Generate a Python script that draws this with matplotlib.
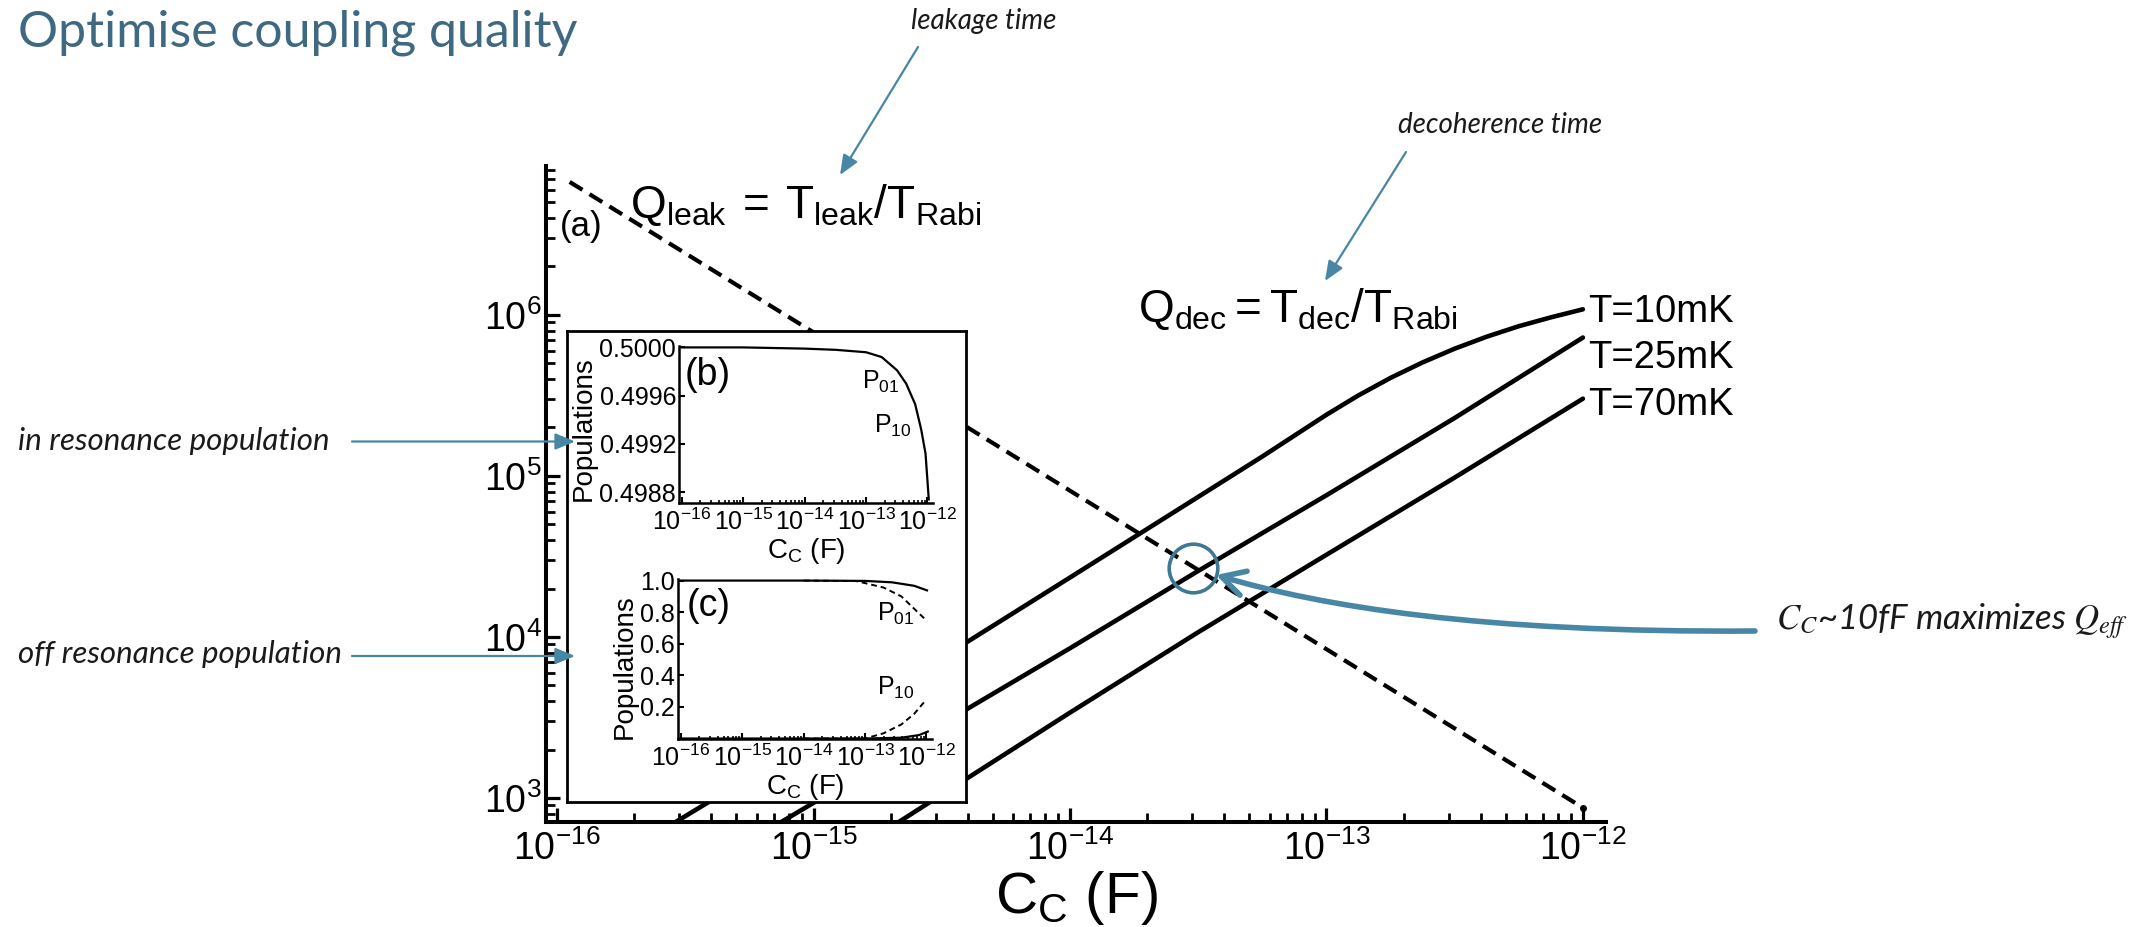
import numpy as np
import matplotlib
matplotlib.use("Agg")
import matplotlib.pyplot as plt
from matplotlib.ticker import LogLocator, NullFormatter, FuncFormatter, FixedLocator, FormatStrFormatter
from matplotlib.patches import FancyArrowPatch
from matplotlib.path import Path

plt.rcParams['font.family'] = ['Liberation Sans', 'DejaVu Sans']
plt.rcParams['mathtext.fontset'] = 'custom'
plt.rcParams['mathtext.rm'] = 'Liberation Sans'
plt.rcParams['mathtext.it'] = 'Liberation Sans:italic'
plt.rcParams['mathtext.bf'] = 'Liberation Sans:bold'

# ---------------- data ----------------
# main panel (a): quality factors vs coupling capacitance
cc_leak = [1.12e-16, 1e-15, 1e-14, 1e-13, 1e-12]
q_leak = [6.7e6, 7.8e5, 8.1e4, 8.4e3, 8.7e2]

cc_10mK = [2.51e-16, 1e-15, 3.16e-15, 1e-14, 3.16e-14, 5.62e-14, 1e-13, 1.33e-13, 1.78e-13,
           2.37e-13, 3.16e-13, 4.22e-13, 5.62e-13, 7.5e-13, 1e-12]
q_10mK = [617, 2.34e3, 7.41e3, 2.34e4, 7.41e4, 1.32e5, 2.40e5, 3.16e5, 4.07e5,
          5.07e5, 6.17e5, 7.33e5, 8.51e5, 9.66e5, 1.084e6]

cc_25mK = [6.3e-16, 1e-15, 3.16e-15, 1e-14, 3.16e-14, 1e-13, 1.78e-13, 3.16e-13, 5.62e-13, 1e-12]
q_25mK = [603, 933, 2.88e3, 8.51e3, 2.57e4, 7.59e4, 1.32e5, 2.29e5, 4.07e5, 7.24e5]

cc_70mK = [1.6e-15, 3.16e-15, 1e-14, 3.16e-14, 1e-13, 3.16e-13, 1e-12]
q_70mK = [525, 1.05e3, 3.39e3, 1.07e4, 3.24e4, 9.77e4, 3.02e5]

temp_labels = ["T=10mK", "T=25mK", "T=70mK"]
x_ticks_main = [1e-16, 1e-15, 1e-14, 1e-13, 1e-12]

# optimum marker
cc_opt = 10 ** -13.52
q_opt = 10 ** 4.43

# inset (b): in-resonance population
cc_b = [1e-16, 1e-15, 1e-14, 3.2e-14, 1e-13, 1.8e-13, 3.2e-13, 4.5e-13, 6.3e-13, 7.9e-13, 9.3e-13, 1.05e-12]
p_b = [0.50000, 0.50000, 0.49999, 0.49998, 0.49996, 0.49992, 0.49981, 0.49970, 0.49953, 0.49932, 0.49912, 0.49874]
yticks_b = [0.4988, 0.4992, 0.4996, 0.5000]

# inset (c): off-resonance populations
cc_c_top = [1e-16, 1e-14, 1e-13, 2.75e-13, 6.3e-13, 1.02e-12]
p_c_top = [1.0, 1.0, 0.998, 0.989, 0.967, 0.938]
cc_c_p01 = [1e-14, 7.2e-14, 2e-13, 3.9e-13, 6.3e-13, 1.02e-12]
p_c_p01 = [1.0, 0.997, 0.956, 0.90, 0.822, 0.744]
cc_c_p10 = [1e-14, 1e-13, 2e-13, 3.9e-13, 6.3e-13, 9.8e-13]
p_c_p10 = [0.0, 0.0, 0.033, 0.089, 0.156, 0.244]
cc_c_bot = [1e-16, 1e-13, 3.9e-13, 7.6e-13, 1.05e-12]
p_c_bot = [0.0, 0.0, 0.005, 0.022, 0.044]
yticks_c = [0.2, 0.4, 0.6, 0.8, 1.0]

# ---------------- figure ----------------
W, H = 2136, 927
fig = plt.figure(figsize=(W / 100, H / 100), dpi=100)


def fx(px):
    return px / W


def fy(py):
    return 1 - py / H


def rect(l, r, t, b):
    return [fx(l), fy(b), (r - l) / W, (b - t) / H]


XLIM = (10 ** -16.043, 10 ** -11.91)
sci = FuncFormatter(lambda v, p: r'$\mathregular{10^{%d}}$' % int(round(np.log10(v))))

ax = fig.add_axes(rect(546, 1606, 166, 822))
ax.set_xscale('log')
ax.set_yscale('log')
ax.set_xlim(*XLIM)
ax.set_ylim(10 ** 2.851, 10 ** 6.925)

lw_main = 3.3
ax.plot(cc_leak, q_leak, color='black', lw=3.0, ls=(0, (3.6, 2.0)), zorder=2)
ax.plot(cc_leak[-1], q_leak[-1], marker='o', ms=4, color='black', zorder=2)
for cc, q in [(cc_10mK, q_10mK), (cc_25mK, q_25mK), (cc_70mK, q_70mK)]:
    ax.plot(cc, q, color='black', lw=lw_main, solid_capstyle='round', solid_joinstyle='round', zorder=2)

ax.plot([cc_opt], [q_opt], marker='o', ms=35, mfc='none', mec='#3E7895', mew=2.6, zorder=3)

for s in ['top', 'right']:
    ax.spines[s].set_visible(False)
for s in ['left', 'bottom']:
    ax.spines[s].set_linewidth(2.9)

ax.xaxis.set_major_locator(FixedLocator(x_ticks_main))
ax.xaxis.set_minor_locator(LogLocator(base=10, subs=np.arange(2, 10), numticks=30))
ax.yaxis.set_major_locator(LogLocator(base=10, numticks=30))
ax.yaxis.set_minor_locator(LogLocator(base=10, subs=np.arange(2, 10), numticks=30))
ax.xaxis.set_major_formatter(sci)
ax.yaxis.set_major_formatter(sci)
ax.xaxis.set_minor_formatter(NullFormatter())
ax.yaxis.set_minor_formatter(NullFormatter())
ax.tick_params(which='major', direction='in', length=10, width=2.3, labelsize=27)
ax.tick_params(which='minor', direction='in', length=6.5, width=2.0)
ax.tick_params(axis='x', which='major', pad=6)
ax.tick_params(axis='y', which='major', pad=3)

# main panel texts
fig.text(fx(1076), fy(913), r'$\mathregular{C_C}$ (F)', fontsize=42, ha='center', va='baseline')
fig.text(fx(560), fy(236), '(a)', fontsize=25, va='baseline')
fig.text(fx(630), fy(218), r'$\mathregular{Q_{leak}\:=\:T_{leak}/T_{Rabi}}$', fontsize=33, va='baseline')
fig.text(fx(1138), fy(322), r'$\mathregular{Q_{dec}=T_{dec}/T_{Rabi}}$', fontsize=33, va='baseline')
for lab, yb in zip(temp_labels, [322, 368, 415]):
    fig.text(fx(1588), fy(yb), lab, fontsize=27.5, va='baseline')

# ---------------- inset ----------------
box = fig.add_axes(rect(567, 966, 331, 802), zorder=5)
box.set_facecolor('white')
box.set_xticks([])
box.set_yticks([])
for s in box.spines.values():
    s.set_linewidth(2.0)


def style_inset(a):
    a.set_xscale('log')
    a.set_xlim(*XLIM)
    a.patch.set_alpha(0)
    for s in ['top', 'right']:
        a.spines[s].set_visible(False)
    for s in ['left', 'bottom']:
        a.spines[s].set_linewidth(1.8)
    a.xaxis.set_major_locator(FixedLocator(x_ticks_main))
    a.xaxis.set_minor_locator(LogLocator(base=10, subs=np.arange(2, 10), numticks=30))
    a.xaxis.set_major_formatter(sci)
    a.xaxis.set_minor_formatter(NullFormatter())
    a.tick_params(which='major', direction='in', length=4, width=1.5, labelsize=18)
    a.tick_params(which='minor', direction='in', length=2.5, width=1.2)
    a.tick_params(axis='x', pad=4)
    a.tick_params(axis='y', pad=2)
    a.set_xlabel(r'$\mathregular{C_C}$ (F)', fontsize=20, labelpad=1)
    a.set_ylabel('Populations', fontsize=20, labelpad=2)


axb = fig.add_axes(rect(679, 933, 345.6, 503), zorder=6)
style_inset(axb)
axb.set_ylim(0.49871, 0.500015)
axb.yaxis.set_major_locator(FixedLocator(yticks_b))
axb.yaxis.set_major_formatter(FormatStrFormatter('%.4f'))
axb.plot(cc_b, p_b, color='black', lw=1.6)
axb.yaxis.label.set_position((0, 0.47))

axc = fig.add_axes(rect(678, 932, 579, 739), zorder=6)
style_inset(axc)
axc.set_ylim(-0.003, 1.01)
axc.yaxis.set_major_locator(FixedLocator(yticks_c))
axc.yaxis.set_major_formatter(FormatStrFormatter('%.1f'))
axc.plot(cc_c_top, p_c_top, color='black', lw=1.6)
axc.plot(cc_c_p01, p_c_p01, color='black', lw=1.4, ls=(0, (3, 2)))
axc.plot(cc_c_p10, p_c_p10, color='black', lw=1.4, ls=(0, (3, 2)))
axc.plot(cc_c_bot, p_c_bot, color='black', lw=1.6)
axc.yaxis.label.set_position((0, 0.45))

for txt, x, yb in [('(b)', 685, 385), ('(c)', 687, 616)]:
    fig.text(fx(x), fy(yb), txt, fontsize=27, va='baseline', zorder=20)
for txt, x, yb in [(r'$\mathregular{P_{01}}$', 862, 389), (r'$\mathregular{P_{10}}$', 874, 433),
                   (r'$\mathregular{P_{01}}$', 877, 621), (r'$\mathregular{P_{10}}$', 877, 695)]:
    fig.text(fx(x), fy(yb), txt, fontsize=18, va='baseline', zorder=20)

# ---------------- slide annotations ----------------
teal = '#4886A6'
fig.text(fx(18), fy(47), 'Optimise coupling quality', fontsize=36, color='#3F6882',
         family='Lato', fontweight='normal', va='baseline')

note_kw = dict(family='Lato', style='italic', color='#1A1A1A', va='baseline')
fig.text(fx(18), fy(450), 'in resonance population', fontsize=22.5, **note_kw)
fig.text(fx(18), fy(663), 'off resonance population', fontsize=22.5, **note_kw)
fig.text(fx(911), fy(29), 'leakage time', fontsize=20, **note_kw)
fig.text(fx(1398), fy(133), 'decoherence time', fontsize=20, **note_kw)


def arrow(p0, p1):
    a = FancyArrowPatch((fx(p0[0]), fy(p0[1])), (fx(p1[0]), fy(p1[1])),
                        transform=fig.transFigure, arrowstyle='-|>,head_length=0.6,head_width=0.25',
                        mutation_scale=20, lw=1.6, color=teal, shrinkA=0, shrinkB=0, zorder=30)
    fig.add_artist(a)


arrow((352, 441.5), (575, 441.5))
arrow((352, 656), (575, 656))
arrow((918, 47), (840, 175))
arrow((1406, 152), (1325, 281))

verts = [(1755, 631), (1480, 633), (1320, 606), (1216, 575)]
verts = [(fx(x), fy(y)) for x, y in verts]
big = FancyArrowPatch(path=Path(verts, [Path.MOVETO, Path.CURVE4, Path.CURVE4, Path.CURVE4]),
                      transform=fig.transFigure, arrowstyle='->,head_length=0.55,head_width=0.3',
                      mutation_scale=30, lw=4, color=teal, zorder=30)
fig.add_artist(big)

fig.text(fx(1776), fy(629), r'$C_C$~10fF maximizes $Q_{eff}$', fontsize=25, family='Lato',
         style='italic', math_fontfamily='stix', va='baseline', color='#1A1A1A')

fig.savefig('out.png', dpi=100)
